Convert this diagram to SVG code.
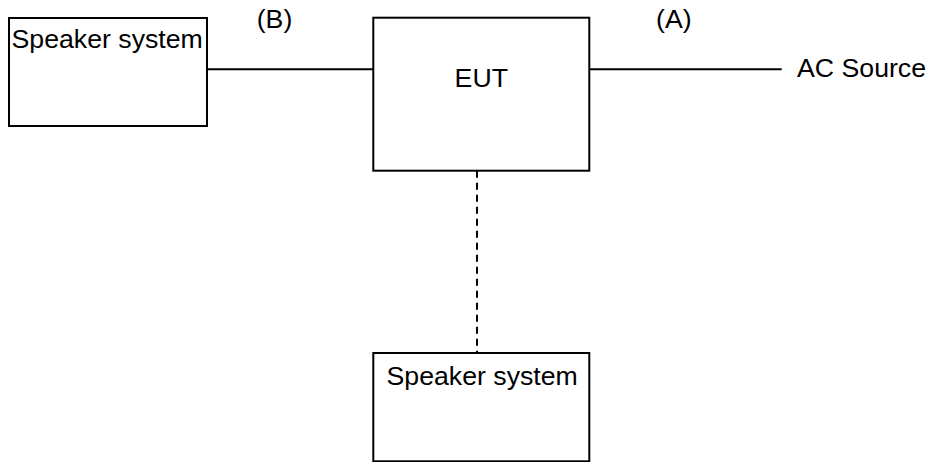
<svg xmlns="http://www.w3.org/2000/svg" width="930" height="462" viewBox="0 0 930 462">
<style>
.box{fill:#fff;stroke:#000;stroke-width:2}
.ln{stroke:#000;stroke-width:2;fill:none}
.dash{stroke-dasharray:7 5}
text{font-family:"Liberation Sans",Arial,sans-serif;font-size:26.7px;fill:#000}
</style>
<rect width="930" height="462" fill="#fff"/>
<g id="connectors">
<line class="ln" x1="207" y1="69.3" x2="373.3" y2="69.3"/>
<line class="ln" x1="589.3" y1="69.3" x2="781.7" y2="69.3"/>
<line class="ln dash" x1="477" y1="170.7" x2="477" y2="353"/>
</g>
<g id="speaker-left">
<rect class="box" x="9" y="18" width="198" height="108"/>
<text x="11.5" y="47.7">Speaker system</text>
</g>
<g id="eut">
<rect class="box" x="373.3" y="17.7" width="216" height="153"/>
<text x="481.3" y="86.7" text-anchor="middle">EUT</text>
</g>
<g id="speaker-bottom">
<rect class="box" x="373.3" y="353" width="216" height="108.3"/>
<text x="386.5" y="385">Speaker system</text>
</g>
<g id="ac-source">
<text x="797" y="76.7">AC Source</text>
</g>
<g id="labels">
<text x="256.7" y="28">(B)</text>
<text x="656" y="28">(A)</text>
</g>
</svg>
